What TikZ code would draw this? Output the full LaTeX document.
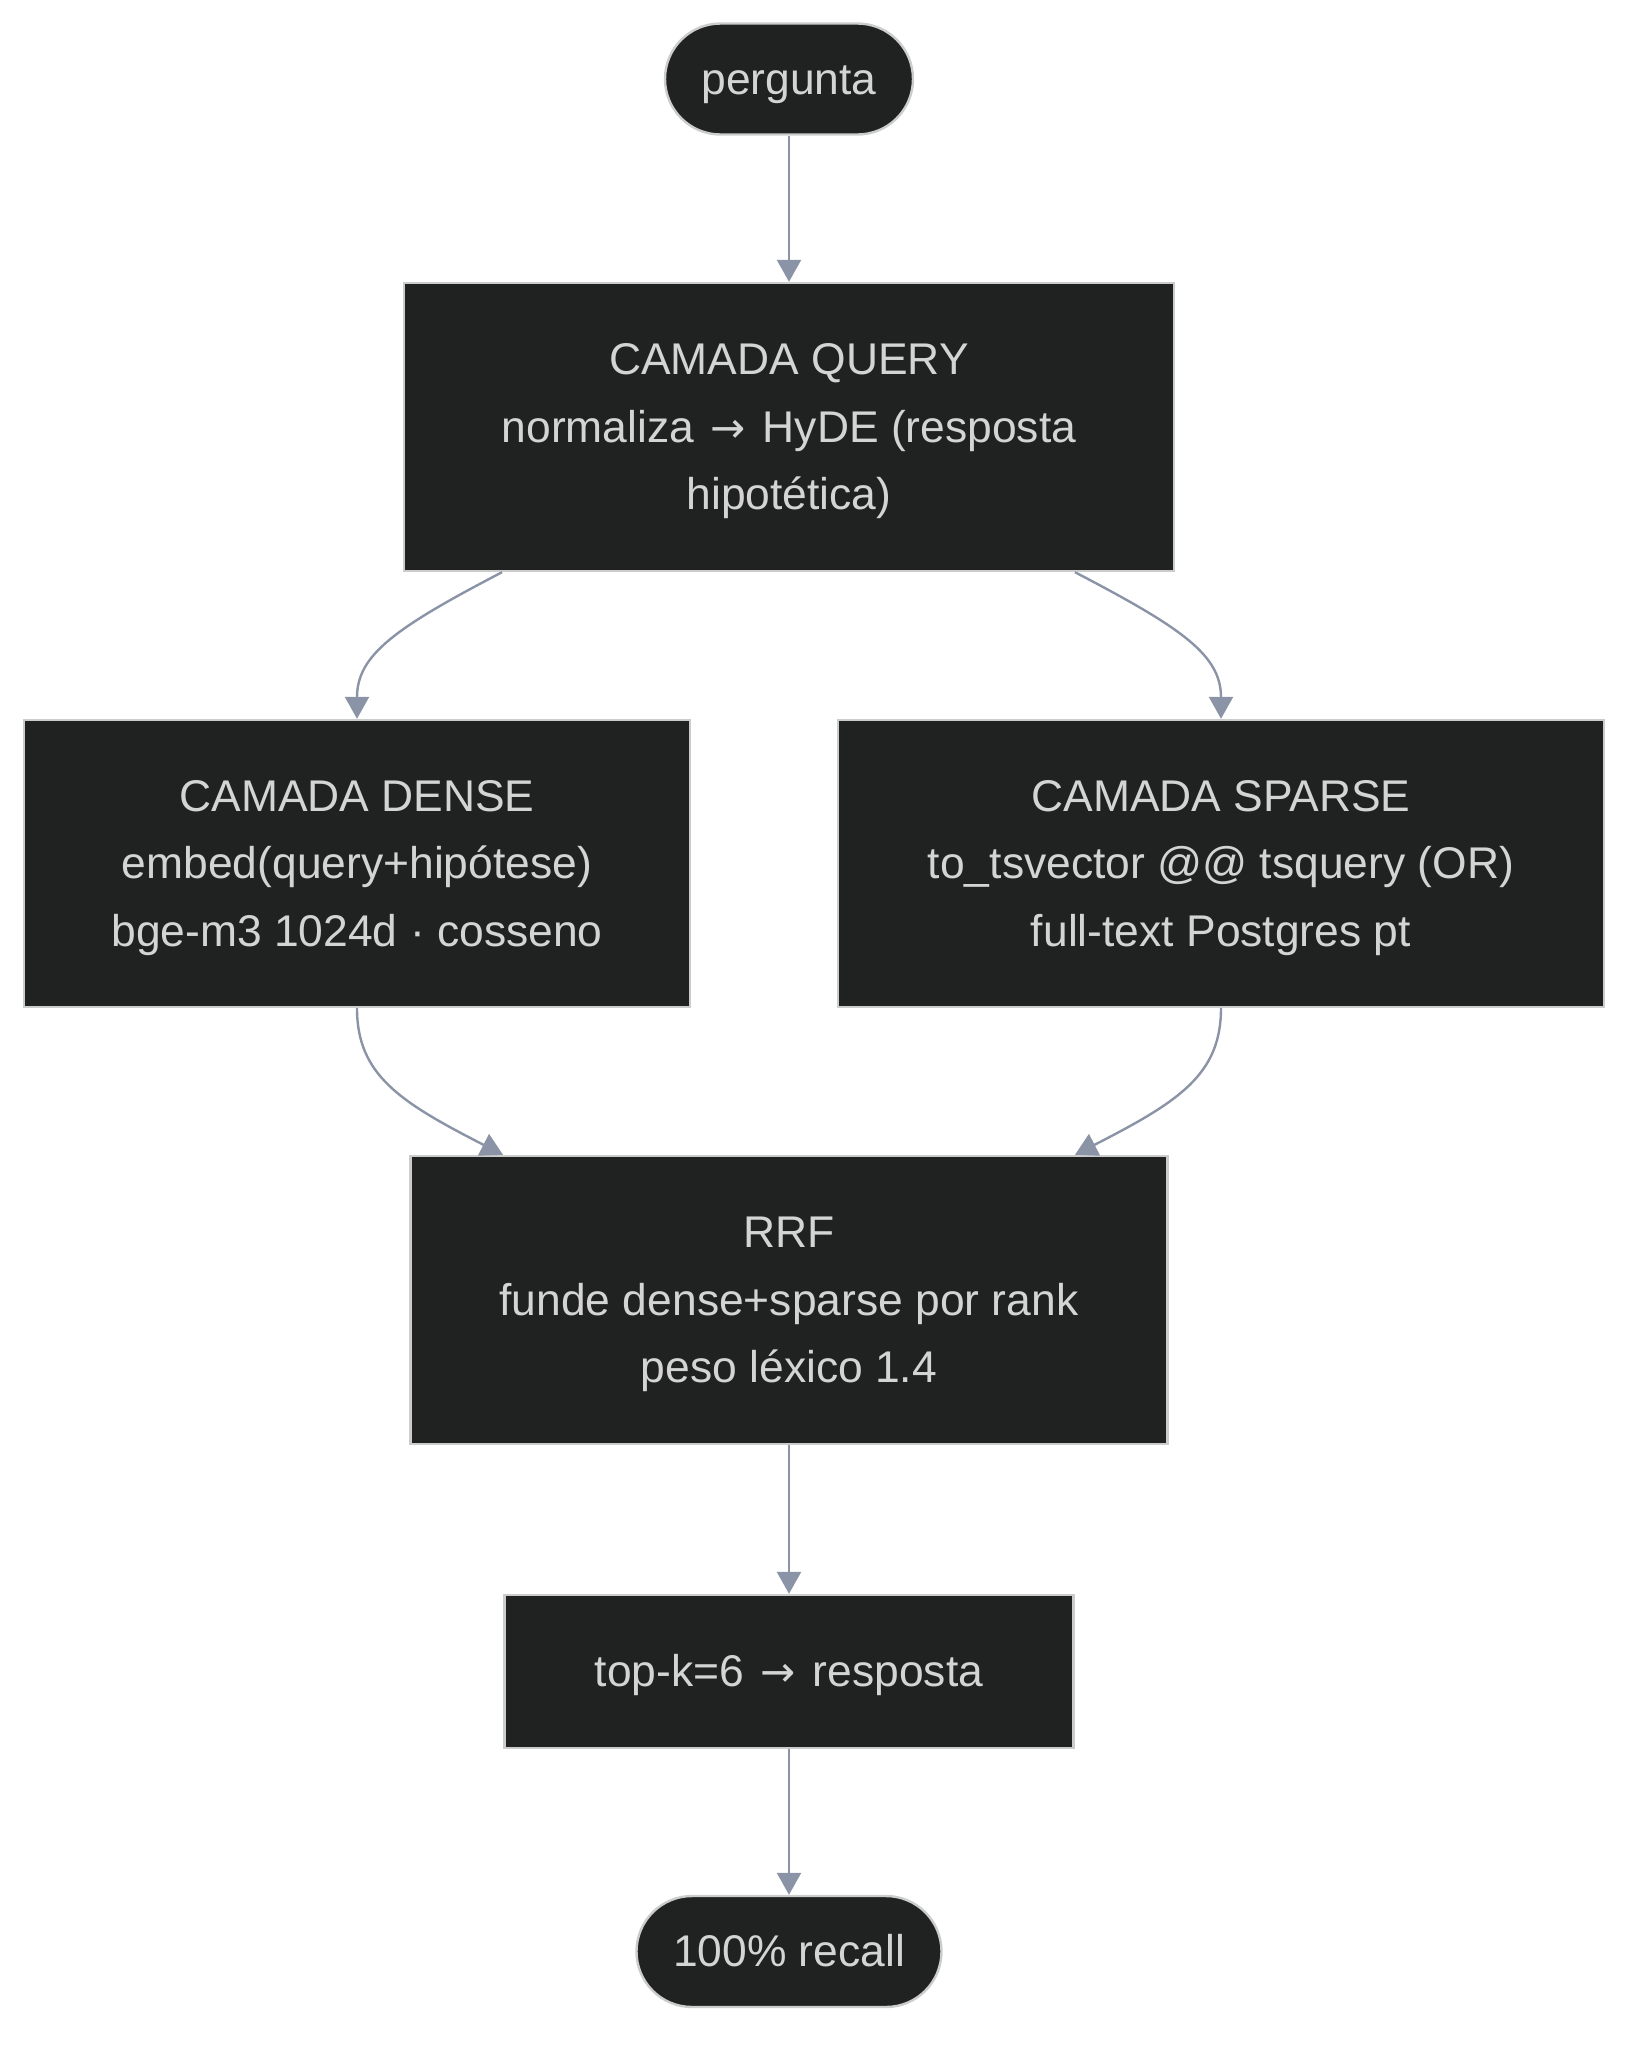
\documentclass[tikz,border=0pt]{standalone}
\usepackage{fontspec}
\setmainfont{Liberation Sans}
\newfontfamily\arrfont{DejaVu Sans}
\usetikzlibrary{arrows.meta,calc}
\definecolor{nodefill}{RGB}{32,34,33}
\definecolor{nodeline}{RGB}{204,204,204}
\definecolor{nodetext}{RGB}{212,212,212}
\definecolor{edgecol}{RGB}{138,148,166}
\newcommand\rar{\hspace{2.2pt}{\arrfont\fontsize{21pt}{33.75pt}\selectfont →}\hspace{2.2pt}}
\newcommand\lstrut{\rule[-5pt]{0pt}{25pt}}
\tikzset{
  box/.style={draw=nodeline, fill=nodefill, line width=1.2pt, text=nodetext,
    align=center, inner sep=0pt,
    font=\fontsize{22.2pt}{33.75pt}\selectfont},
  pill/.style={box, rounded corners=27.75pt},
  arr/.style={draw=edgecol, line width=1.2pt,
    -{Triangle[width=12pt,length=11pt]}}
}
\begin{document}
\begin{tikzpicture}[x=0.5pt,y=-0.5pt]
\useasboundingbox (0,0) rectangle (1650,2058);
\node[pill, minimum width=124pt, minimum height=55.5pt] (p) at (789,79) {\lstrut pergunta};
\node[box, minimum width=385pt, minimum height=144pt] (q) at (789,427)
  {\lstrut CAMADA QUERY\\normaliza \rar{} HyDE (resposta\\hipotética)\lstrut};
\node[box, minimum width=333pt, minimum height=143.5pt] (d) at (357,863.5)
  {\lstrut CAMADA DENSE\\embed(query+hipótese)\\bge-m3 1024d · cosseno\lstrut};
\node[box, minimum width=383pt, minimum height=143.5pt] (s) at (1221,863.5)
  {\lstrut CAMADA SPARSE\\to\_tsvector @@ tsquery (OR)\\full-text Postgres pt\lstrut};
\node[box, minimum width=378.5pt, minimum height=144pt] (r) at (789,1300)
  {\lstrut RRF\\funde dense+sparse por rank\\peso léxico 1.4\lstrut};
\node[box, minimum width=284.5pt, minimum height=76.5pt] (t) at (789,1671.5)
  {\lstrut top-k=6 \rar{} resposta};
\node[pill, minimum width=152.5pt, minimum height=55.5pt] (e) at (789,1951.5)
  {\lstrut 100\% recall};

\draw[arr] (p.south) -- (q.north);
\draw[arr] ([xshift=-143.5pt]q.south) .. controls (395,628) and (357,655) .. (d.north);
\draw[arr] ([xshift=143pt]q.south) .. controls (1182,628) and (1221,655) .. (s.north);
\draw[arr] (d.south) .. controls (357,1075) and (400,1102) .. ([xshift=-143pt]r.north);
\draw[arr] (s.south) .. controls (1221,1075) and (1178,1102) .. ([xshift=143pt]r.north);
\draw[arr] (r.south) -- (t.north);
\draw[arr] (t.south) -- (e.north);
\end{tikzpicture}
\end{document}
